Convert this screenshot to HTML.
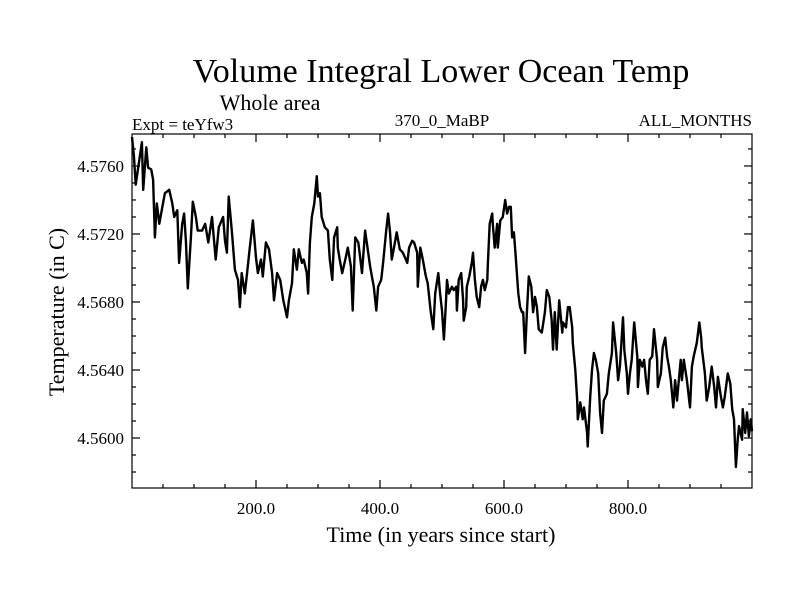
<!DOCTYPE html>
<html><head><meta charset="utf-8"><style>
html,body{margin:0;padding:0;background:#fff;}
svg{display:block;font-family:"Liberation Serif",serif;}
</style></head><body>
<svg id="chart" width="800" height="600" viewBox="0 0 800 600">
<rect width="800" height="600" fill="#fff"/>
<text x="441" y="82" font-size="34" text-anchor="middle">Volume Integral Lower Ocean Temp</text>
<text x="270" y="110" font-size="22" text-anchor="middle">Whole area</text>
<text x="132" y="130" font-size="17">Expt = teYfw3</text>
<text x="442" y="126" font-size="17" text-anchor="middle">370_0_MaBP</text>
<text x="752" y="126" font-size="17" text-anchor="end">ALL_MONTHS</text>
<text x="441" y="542" font-size="22" text-anchor="middle">Time (in years since start)</text>
<text transform="translate(64,312) rotate(-90)" font-size="22" text-anchor="middle">Temperature (in C)</text>
<g id="axes"></g>
<g id="series"></g>
<rect x="132" y="134" width="620" height="354" fill="none" stroke="#000" stroke-width="1.2"/>
</svg>
<script>
const years=[0,3,6,10,16,18,23,26,31,34,37,40,44,50,53,60,65,68,73,76,81,84,87,90,95,98,103,106,113,118,123,129,135,140,147,150,153,156,161,166,171,174,177,182,185,190,195,200,203,208,211,216,221,226,229,234,239,244,250,253,258,261,266,269,274,277,282,284,287,290,294,298,300,303,306,311,316,319,323,326,331,332,335,339,344,348,353,356,360,365,368,371,376,381,384,387,390,394,397,402,405,410,413,416,419,424,427,432,437,444,447,452,455,460,461,465,469,474,477,482,486,489,494,497,500,503,506,508,511,516,519,523,524,527,531,534,535,539,540,544,548,550,553,556,560,563,566,569,573,574,577,581,582,585,589,590,594,598,602,605,608,611,613,616,619,623,626,629,631,634,637,640,644,647,650,653,656,661,666,669,673,677,679,682,685,689,694,695,700,703,706,710,711,715,718,719,723,727,729,734,735,739,742,745,748,752,755,758,761,766,769,774,776,781,784,787,792,794,798,800,803,806,810,815,816,819,823,826,829,832,835,839,842,847,848,853,856,860,863,866,869,873,876,879,881,885,887,890,895,900,903,906,911,915,918,919,924,927,931,935,939,942,945,950,953,956,961,965,968,971,974,977,979,984,985,989,992,995,998,1000];
const temps=[4.5777,4.5766,4.5749,4.5759,4.5774,4.5746,4.5771,4.5759,4.5758,4.5752,4.5718,4.5738,4.5726,4.5738,4.5744,4.5746,4.5738,4.5730,4.5734,4.5703,4.5726,4.5732,4.5716,4.5688,4.5718,4.5739,4.5730,4.5722,4.5722,4.5726,4.5715,4.5730,4.5705,4.5724,4.5730,4.5716,4.5709,4.5742,4.5722,4.5699,4.5693,4.5677,4.5697,4.5685,4.5695,4.5712,4.5728,4.5706,4.5697,4.5705,4.5695,4.5715,4.5711,4.5697,4.5681,4.5697,4.5693,4.5681,4.5671,4.5681,4.5691,4.5711,4.5699,4.5711,4.5703,4.5705,4.5697,4.5685,4.5715,4.5730,4.5738,4.5754,4.5742,4.5744,4.5730,4.5724,4.5722,4.5705,4.5693,4.5718,4.5724,4.5712,4.5705,4.5697,4.5705,4.5712,4.5701,4.5675,4.5718,4.5715,4.5706,4.5697,4.5722,4.5709,4.5701,4.5695,4.5689,4.5675,4.5689,4.5693,4.5703,4.5722,4.5732,4.5722,4.5705,4.5715,4.5721,4.5711,4.5709,4.5703,4.5712,4.5716,4.5715,4.5709,4.5689,4.5712,4.5705,4.5695,4.5691,4.5674,4.5664,4.5685,4.5697,4.5685,4.5675,4.5658,4.5677,4.5693,4.5685,4.5689,4.5687,4.5689,4.5675,4.5693,4.5697,4.5681,4.5669,4.5677,4.5689,4.5695,4.5703,4.5709,4.5693,4.5683,4.5677,4.5689,4.5693,4.5687,4.5693,4.5703,4.5726,4.5732,4.5726,4.5712,4.5726,4.5712,4.5728,4.5730,4.5740,4.5732,4.5736,4.5736,4.5718,4.5721,4.5706,4.5685,4.5677,4.5674,4.5674,4.5650,4.5674,4.5695,4.5689,4.5674,4.5683,4.5677,4.5664,4.5662,4.5674,4.5687,4.5683,4.5669,4.5652,4.5674,4.5652,4.5681,4.5662,4.5668,4.5665,4.5677,4.5677,4.5665,4.5656,4.5640,4.5622,4.5611,4.5621,4.5611,4.5618,4.5603,4.5595,4.5624,4.5640,4.5650,4.5646,4.5638,4.5615,4.5603,4.5622,4.5626,4.5638,4.5650,4.5668,4.5650,4.5634,4.5642,4.5671,4.5652,4.5638,4.5626,4.5638,4.5646,4.5668,4.5648,4.5630,4.5646,4.5642,4.5646,4.5634,4.5626,4.5646,4.5648,4.5664,4.5646,4.5630,4.5638,4.5653,4.5659,4.5648,4.5642,4.5634,4.5618,4.5634,4.5622,4.5630,4.5646,4.5634,4.5646,4.5634,4.5618,4.5642,4.5648,4.5656,4.5668,4.5659,4.5653,4.5638,4.5622,4.5630,4.5642,4.5630,4.5618,4.5636,4.5624,4.5618,4.5624,4.5638,4.5632,4.5617,4.5611,4.5583,4.5599,4.5607,4.5599,4.5617,4.5603,4.5615,4.5601,4.5611,4.5604];
const xTickValues=[200,400,600,800];
const xTickLabels=["200.0","400.0","600.0","800.0"];
const yTickValues=[4.5600,4.5640,4.5680,4.5720,4.5760];
const yTickLabels=["4.5600","4.5640","4.5680","4.5720","4.5760"];

const X0=132,X1=752,Y0=134,Y1=488;
const xMin=0,xMax=1000,yMin=4.55706,yMax=4.57788;
function xs(v){return X0+(v-xMin)/(xMax-xMin)*(X1-X0);}
function ys(v){return Y1-(v-yMin)/(yMax-yMin)*(Y1-Y0);}
const NS="http://www.w3.org/2000/svg";
const axes=document.getElementById('axes');
function line(x1,y1,x2,y2,name){
  const l=document.createElementNS(NS,'line');
  l.setAttribute('x1',x1);l.setAttribute('y1',y1);l.setAttribute('x2',x2);l.setAttribute('y2',y2);
  l.setAttribute('stroke','#000');l.setAttribute('stroke-width','1.2');
  
  
  axes.appendChild(l);
}
for(let v=50;v<1000;v+=50){
  const major=v%200===0;const len=major?8:4;const x=xs(v);
  line(x,Y1,x,Y1-len,'x-tick');
  line(x,Y0,x,Y0+len,'x-tick-top');
}
for(let k=-2;k<=17;k++){
  const v=4.5600+k*0.001;if(v<yMin||v>yMax)continue;
  const major=(k%4===0);const len=major?8:4;const y=ys(v);
  line(X0,y,X0+len,y,'y-tick');
  line(X1,y,X1-len,y,'y-tick-right');
}
xTickValues.forEach((v,i)=>{
  const t=document.createElementNS(NS,'text');
  t.setAttribute('x',xs(v));t.setAttribute('y',Y1+26);
  t.setAttribute('font-size','17');t.setAttribute('text-anchor','middle');
  t.textContent=xTickLabels[i];
  
  
  axes.appendChild(t);
});
yTickValues.forEach((v,i)=>{
  const t=document.createElementNS(NS,'text');
  t.setAttribute('x',X0-8);t.setAttribute('y',ys(v)+6);
  t.setAttribute('font-size','17');t.setAttribute('text-anchor','end');
  t.textContent=yTickLabels[i];
  
  
  axes.appendChild(t);
});
const p=document.createElementNS(NS,'polyline');
p.setAttribute('points',years.map((yr,i)=>xs(yr).toFixed(1)+','+ys(temps[i]).toFixed(1)).join(' '));
p.setAttribute('fill','none');p.setAttribute('stroke','#000');p.setAttribute('stroke-width','2.4');
p.setAttribute('stroke-linejoin','round');


document.getElementById('series').appendChild(p);
</script>
</body></html>
